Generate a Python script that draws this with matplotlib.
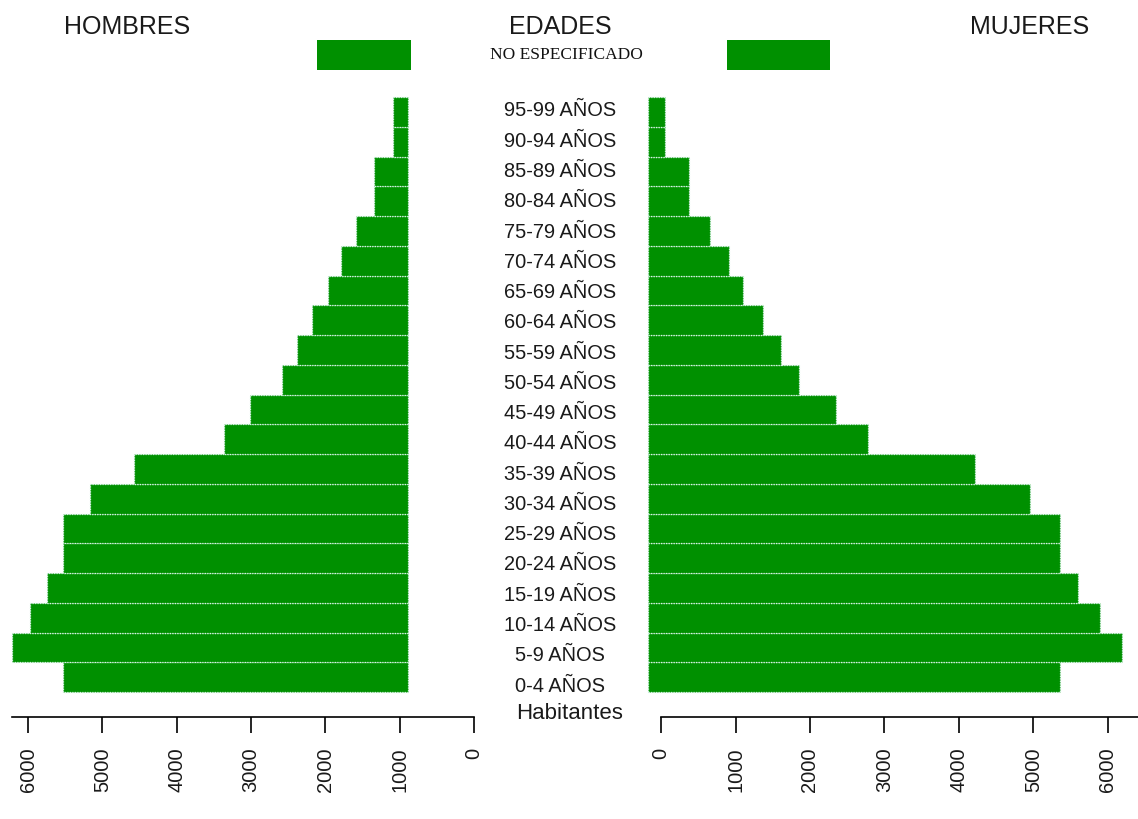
import matplotlib
matplotlib.use('Agg')
import matplotlib.pyplot as plt
import matplotlib.transforms as mtransforms
import numpy as np

edades = ['0-4 AÑOS', '5-9 AÑOS', '10-14 AÑOS', '15-19 AÑOS', '20-24 AÑOS',
          '25-29 AÑOS', '30-34 AÑOS', '35-39 AÑOS', '40-44 AÑOS', '45-49 AÑOS',
          '50-54 AÑOS', '55-59 AÑOS', '60-64 AÑOS', '65-69 AÑOS', '70-74 AÑOS',
          '75-79 AÑOS', '80-84 AÑOS', '85-89 AÑOS', '90-94 AÑOS', '95-99 AÑOS']
hombres = [5530, 6210, 5970, 5740, 5530, 5530, 5170, 4580, 3370, 3010,
           2580, 2380, 2180, 1970, 1790, 1590, 1350, 1350, 1090, 1090]
mujeres = [5360, 6190, 5890, 5600, 5360, 5360, 4950, 4220, 2780, 2350,
           1850, 1610, 1370, 1100, 910, 660, 380, 380, 50, 50]
# barra "NO ESPECIFICADO" (inicio, fin)
no_esp_hombres = (848, 2112)
no_esp_mujeres = (886, 2268)

base_h = 888   # donde arrancan las barras de hombres
base_m = -174  # donde arrancan las barras de mujeres
ticks = [0, 1000, 2000, 3000, 4000, 5000, 6000]

verde = '#009000'
borde = '#d5f3e6'
texto = '#1a1a1a'
sans = ['Liberation Sans', 'DejaVu Sans']

W, H = 1138, 820
fig = plt.figure(figsize=(W / 100, H / 100), dpi=100)

top_px, bot_px = 30, 718
ax_h = fig.add_axes([0, (H - bot_px) / H, 480 / W, (bot_px - top_px) / H])
ax_m = fig.add_axes([640 / W, (H - bot_px) / H, (W - 640) / W, (bot_px - top_px) / H])

y = np.arange(len(edades))
unit = 29.75
ylim = (-0.5 - (bot_px - 693) / unit, 19.5 + (98 - top_px) / unit)
y_ne = 19.5 + (98 - 56) / unit

ax_h.barh(y, np.array(hombres) - base_h, left=base_h, height=1.0, color=verde,
          edgecolor=borde, linewidth=0.9, linestyle=(0, (1, 1)))
ax_m.barh(y, np.array(mujeres) - base_m, left=base_m, height=1.0, color=verde,
          edgecolor=borde, linewidth=0.9, linestyle=(0, (1, 1)))
ax_h.barh(y_ne, no_esp_hombres[1] - no_esp_hombres[0], left=no_esp_hombres[0],
          height=1.0, color=verde, linewidth=0)
ax_m.barh(y_ne, no_esp_mujeres[1] - no_esp_mujeres[0], left=no_esp_mujeres[0],
          height=1.0, color=verde, linewidth=0)

ax_h.set_xlim(6377, -80.7)
ax_m.set_xlim(-282, 6403)

for ax in (ax_h, ax_m):
    ax.set_ylim(*ylim)
    ax.set_yticks([])
    for s in ('top', 'left', 'right'):
        ax.spines[s].set_visible(False)
    ax.spines['bottom'].set_linewidth(1.2)
    ax.set_xticks(ticks)
    ax.set_xticklabels([str(t) for t in ticks], rotation=90, family=sans,
                       fontsize=14.5, color=texto)
    ax.tick_params(axis='x', length=11.5, width=1.2, pad=10)
    ax.patch.set_alpha(0)

ax_h.spines['bottom'].set_bounds(6215, 0)
ax_m.spines['bottom'].set_bounds(0, 6403)

# etiquetas de edades en el centro
trans = mtransforms.blended_transform_factory(fig.transFigure, ax_h.transData)
for i, lab in enumerate(edades):
    ax_h.text(560 / W, -0.265 + 1.0173 * i, lab, transform=trans, ha='center',
              va='center', fontsize=14.4, family=sans, color=texto, clip_on=False)

fig.text(127 / W, 1 - 27 / H, 'HOMBRES', ha='center', va='center', fontsize=18,
         family=sans, color=texto)
fig.text(560 / W, 1 - 27 / H, 'EDADES', ha='center', va='center', fontsize=18,
         family=sans, color=texto)
fig.text(1030 / W, 1 - 27 / H, 'MUJERES', ha='center', va='center', fontsize=18,
         family=sans, color=texto)
fig.text(566 / W, 1 - 55 / H, 'NO ESPECIFICADO', ha='center', va='center',
         fontsize=12.5, family=['Liberation Serif', 'DejaVu Serif'], color='#111111')
fig.text(570 / W, 1 - 714 / H, 'Habitantes', ha='center', va='center', fontsize=16,
         family=sans, color=texto)

fig.savefig('out.png', dpi=100, facecolor='white')
